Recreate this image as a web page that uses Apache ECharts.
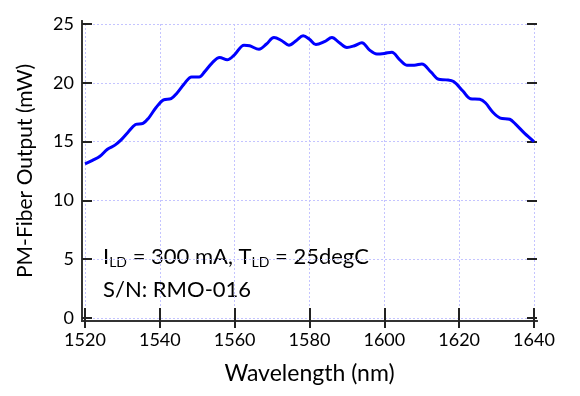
<!DOCTYPE html>
<html>
<head>
<meta charset="utf-8">
<script src="https://cdn.jsdelivr.net/npm/echarts@6/dist/echarts.min.js"></script>
<style>
  html, body { margin: 0; padding: 0; background: #fff; }
  #box { width: 580px; height: 396px; }
</style>
</head>
<body>
<div id="box"></div>
<script>
// wavelength (nm) and PM-fiber output power (mW)
var wavelength = [
  1520, 1522, 1524, 1526, 1528, 1529.5, 1531.5, 1533.5, 1535.5, 1537,
  1539, 1541, 1543, 1544.5, 1546.5, 1548.5, 1550.5, 1552, 1554, 1556,
  1558, 1560, 1562.5, 1564, 1566.5, 1568.5, 1570.5, 1572.5, 1574.5, 1576.5,
  1578.3, 1580, 1581.7, 1584, 1586, 1588, 1590, 1592, 1594, 1596,
  1598, 1600, 1602, 1604, 1606, 1608, 1610, 1612.5, 1614.5, 1616.5,
  1618.5, 1621, 1623, 1625.5, 1627, 1629, 1631, 1633.5, 1635, 1637.5,
  1640
];
var power = [
  13.1, 13.4, 13.75, 14.35, 14.7, 15.1, 15.8, 16.45, 16.55, 17.0,
  17.9, 18.55, 18.65, 19.1, 19.9, 20.5, 20.5, 20.95, 21.7, 22.15,
  21.95, 22.4, 23.2, 23.15, 22.85, 23.3, 23.85, 23.6, 23.2, 23.6,
  24.0, 23.7, 23.25, 23.5, 23.85, 23.4, 23.0, 23.15, 23.4, 22.8,
  22.45, 22.5, 22.6, 22.0, 21.5, 21.5, 21.6, 20.9, 20.3, 20.25,
  20.1, 19.3, 18.65, 18.6, 18.3, 17.5, 17.0, 16.9, 16.5, 15.7,
  15.0
];
var xRange = [1520, 1640];
var yRange = [0, 25];
var xStep = 20;
var yStep = 5;

var font = 'Lato';

var myChart = echarts.init(document.getElementById('box'));

var points = wavelength.map(function (w, i) { return [w, power[i]]; });

// plot box is a bit bigger than the data range, like the original
var pad = 3;
var gridLine = { show: true, lineStyle: { color: '#c4c4ff', width: 1, type: [2, 2] } };
var tick = { show: true, inside: true, length: 10, lineStyle: { color: '#222', width: 2 } };
var frameLine = { show: true, lineStyle: { color: '#333', width: 2 } };
var plain = function (v) { return String(v); };

function frameAxis(pos, grid) {
  return {
    type: 'value', gridIndex: grid, position: pos, min: 0, max: 1,
    axisLine: frameLine, axisTick: { show: false },
    axisLabel: { show: false }, splitLine: { show: false }
  };
}

var option = {
  animation: false,
  grid: [
    // data area
    { left: 82 + pad, right: 43 + pad, top: 21 + pad, bottom: 75 + pad },
    // frame
    { left: 82, right: 43, top: 21, bottom: 75 }
  ],
  xAxis: [
    {
      type: 'value', gridIndex: 0, min: xRange[0], max: xRange[1], interval: xStep,
      offset: pad,
      name: 'Wavelength (nm)', nameLocation: 'middle', nameGap: 41,
      nameTextStyle: { fontFamily: font, fontSize: 23, color: '#000' },
      axisLine: { show: false },
      axisTick: tick,
      splitLine: gridLine,
      axisLabel: { margin: 10, formatter: plain, fontFamily: font, fontSize: 18, color: '#000' }
    },
    {
      type: 'value', gridIndex: 0, position: 'top', min: xRange[0], max: xRange[1], interval: xStep,
      offset: pad,
      axisLine: { show: false },
      axisTick: tick,
      splitLine: { show: false },
      axisLabel: { show: false }
    },
    frameAxis('bottom', 1),
    frameAxis('top', 1)
  ],
  yAxis: [
    {
      type: 'value', gridIndex: 0, min: yRange[0], max: yRange[1], interval: yStep,
      offset: pad,
      name: 'PM-Fiber Output (mW)', nameLocation: 'middle', nameGap: 46,
      nameTextStyle: { fontFamily: font, fontSize: 21, color: '#000' },
      axisLine: { show: false },
      axisTick: tick,
      splitLine: gridLine,
      axisLabel: { margin: 8, formatter: plain, fontFamily: font, fontSize: 18, color: '#000' }
    },
    {
      type: 'value', gridIndex: 0, position: 'right', min: yRange[0], max: yRange[1], interval: yStep,
      offset: pad,
      axisLine: { show: false },
      axisTick: tick,
      splitLine: { show: false },
      axisLabel: { show: false }
    },
    frameAxis('left', 1),
    frameAxis('right', 1)
  ],
  series: [{
    type: 'line',
    xAxisIndex: 0,
    yAxisIndex: 0,
    data: points,
    smooth: 0.35,
    showSymbol: false,
    lineStyle: { color: '#0000ff', width: 3 }
  }],
  graphic: [{
    type: 'text',
    left: 103,
    top: 246,
    style: {
      text: '{m|I}{s|LD}{m| = 300 mA, T}{s|LD}{m| = 25degC}\n{m|S/N: RMO-016}',
      fill: '#000',
      font: '22px Lato',
      rich: {
        m: { fontFamily: font, fontSize: 22, lineHeight: 33, fill: '#000' },
        s: { fontFamily: font, fontSize: 14, lineHeight: 14, verticalAlign: 'bottom', padding: [0, 0, 4, 0], fill: '#000' }
      }
    }
  }]
};

myChart.setOption(option);
</script>
</body>
</html>
